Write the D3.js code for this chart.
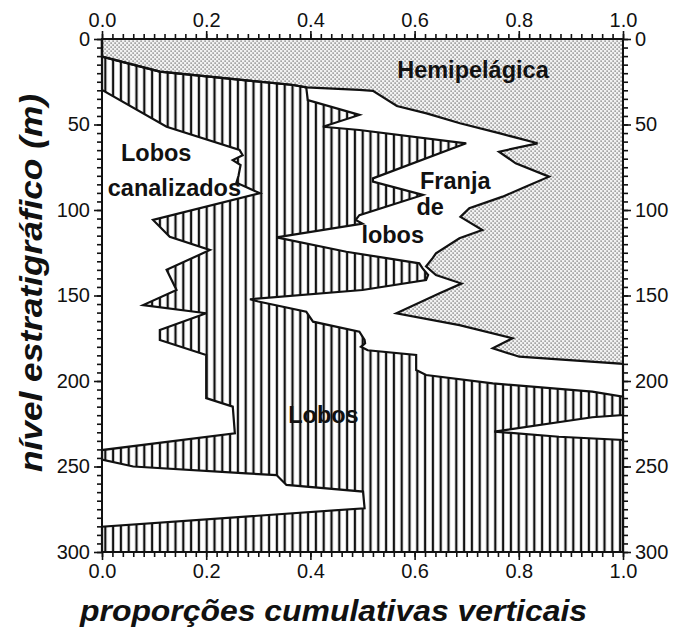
<!DOCTYPE html>
<html>
<head>
<meta charset="utf-8">
<script src="https://cdn.jsdelivr.net/npm/d3@7"></script>
<style>
  html, body { margin: 0; padding: 0; background: #fff; }
  svg { display: block; }
  .tick text { font-family: "Liberation Sans", Arial, Helvetica, sans-serif; font-size: 20px; fill: #111; }
  .tick line { stroke: #111; stroke-width: 1.6; }
</style>
</head>
<body>
<svg id="chart" width="677" height="627"></svg>
<script>
// Cumulative proportion at each stratigraphic level (m): upper limit of each facies.
// Lobos canalizados: 0 .. canalizadosDepth/canalizadosP
const canalizadosDepth = [0, 29.8, 51.3, 64.9, 68, 70.8, 73.7, 80, 84, 90.2, 105.8, 115.6, 123.4, 135, 146.8, 155.6, 160.4, 170.2, 176, 184.8, 210, 215, 230.6, 240.4, 246, 250, 254, 255, 260.8, 264.7, 274.4, 285.2, 300];
const canalizadosP     = [0, 0, 0.124, 0.264, 0.27, 0.251, 0.266, 0.262, 0.258, 0.303, 0.098, 0.13, 0.207, 0.124, 0.143, 0.079, 0.2, 0.111, 0.111, 0.2, 0.2, 0.251, 0.255, 0, 0, 0.06, 0.277, 0.335, 0.354, 0.501, 0.504, 0, 0];

// Lobos: canalizados .. lobosP
const lobosDepth = [0, 10.3, 19.1, 23, 26.9, 28.3, 35.7, 44.4, 51.3, 53.2, 61, 81.5, 83.4, 91.2, 103, 105.8, 108, 116, 124.4, 131.2, 134, 138, 141, 146.8, 152.2, 153.5, 159.5, 165.3, 171.2, 176, 178, 180, 182, 184.8, 193.6, 196.5, 201.4, 206.2, 209.2, 219.9, 221.2, 229.6, 232.6, 234.5, 300];
const lobosP     = [0, 0, 0.111, 0.239, 0.367, 0.392, 0.395, 0.494, 0.424, 0.494, 0.699, 0.52, 0.52, 0.616, 0.494, 0.487, 0.50, 0.335, 0.469, 0.609, 0.615, 0.626, 0.622, 0.50, 0.284, 0.30, 0.392, 0.405, 0.494, 0.504, 0.505, 0.497, 0.51, 0.603, 0.603, 0.622, 0.75, 0.941, 1, 1, 0.941, 0.753, 0.877, 1, 1];

// Franja de lobos: lobos .. franjaP ; Hemipelágica: franjaP .. 1
const franjaDepth = [0, 10.3, 19.1, 23, 26.9, 28.3, 29.8, 30.3, 39.2, 43.5, 49.3, 55.2, 61, 65.9, 72.7, 80.5, 86.4, 92.2, 99, 104, 111.7, 116.5, 125.3, 128, 133, 138, 143, 148.7, 160.4, 167.3, 175, 180.9, 185.8, 190, 300];
const franjaP     = [0, 0, 0.111, 0.239, 0.367, 0.392, 0.494, 0.52, 0.566, 0.623, 0.687, 0.764, 0.836, 0.762, 0.794, 0.858, 0.813, 0.769, 0.705, 0.688, 0.73, 0.686, 0.641, 0.635, 0.622, 0.641, 0.69, 0.648, 0.565, 0.686, 0.788, 0.75, 0.801, 1, 1];

const xTicksMajor = [0, 0.2, 0.4, 0.6, 0.8, 1.0];
const yTicksMajor = [0, 50, 100, 150, 200, 250, 300];

const faciesLabels = ["Hemipelágica", "Lobos", "canalizados", "Franja", "de", "lobos", "Lobos"];
const faciesLabelAt = [[0.712, 22.8], [0.104, 71.3], [0.139, 91.8], [0.678, 87.7], [0.63, 102.9], [0.558, 119.3], [0.425, 224.6]];

const xTitle = "proporções cumulativas verticais";
const yTitle = "nível estratigráfico (m)";

const svg = d3.select("#chart");
const x = d3.scaleLinear().domain([0, 1]).range([102, 623]);
const y = d3.scaleLinear().domain([0, 300]).range([39, 552]);

const pts = (ds, ps) => ds.map((d, i) => [ps[i], d]);
const canal = pts(canalizadosDepth, canalizadosP);
const lobos = pts(lobosDepth, lobosP);
const franja = pts(franjaDepth, franjaP);

// fill patterns
const defs = svg.append("defs");
const hatch = defs.append("pattern").attr("id", "hatch").attr("patternUnits", "userSpaceOnUse")
  .attr("width", 7.8).attr("height", 8);
hatch.append("rect").attr("width", 7.8).attr("height", 8).attr("fill", "#fff");
hatch.append("line").attr("x1", 3.9).attr("x2", 3.9).attr("y1", 0).attr("y2", 8)
  .attr("stroke", "#111").attr("stroke-width", 2.3);

const dots = defs.append("pattern").attr("id", "dots").attr("patternUnits", "userSpaceOnUse")
  .attr("width", 4).attr("height", 4);
dots.append("rect").attr("width", 4).attr("height", 4).attr("fill", "#f2f2f2");
dots.append("rect").attr("x", 0.5).attr("y", 0.5).attr("width", 1.2).attr("height", 1.2).attr("fill", "#555");
dots.append("rect").attr("x", 2.5).attr("y", 2.5).attr("width", 1.2).attr("height", 1.2).attr("fill", "#555");

const line = d3.line().x(d => x(d[0])).y(d => y(d[1])).curve(d3.curveLinear);

// Lobos area: between canalizados and lobos limits
const lobosArea = lobos.concat(canal.slice().reverse());
svg.append("path").attr("d", line(lobosArea) + "Z").attr("fill", "url(#hatch)").attr("stroke", "none");

// Hemipelágica area: right of franja limit
const hemiArea = franja.concat([[1, 300], [1, 0]]);
svg.append("path").attr("d", line(hemiArea) + "Z").attr("fill", "url(#dots)").attr("stroke", "none");

// limit lines
[canal, lobos, franja].forEach(p => {
  svg.append("path").attr("d", line(p)).attr("fill", "none")
    .attr("stroke", "#111").attr("stroke-width", 2.2).attr("stroke-linejoin", "miter");
});

// axes
const fmt = d3.format(".1f");
const xMinor = d3.range(0, 51).map(i => i / 50);
const yMinor = d3.range(0, 61).map(i => i * 5);

function axisPair(gen, scale, major, minor, transform, format) {
  svg.append("g").attr("transform", transform)
    .call(gen(scale).tickValues(minor).tickSize(5).tickSizeOuter(0).tickFormat(""))
    .call(g => g.select(".domain").remove());
  svg.append("g").attr("transform", transform)
    .call(gen(scale).tickValues(major).tickSize(8).tickPadding(4).tickSizeOuter(0).tickFormat(format))
    .call(g => g.select(".domain").remove());
}
axisPair(d3.axisTop, x, xTicksMajor, xMinor, "translate(0,39)", fmt);
axisPair(d3.axisBottom, x, xTicksMajor, xMinor, "translate(0,552)", fmt);
axisPair(d3.axisLeft, y, yTicksMajor, yMinor, "translate(102,0)", d3.format("d"));
axisPair(d3.axisRight, y, yTicksMajor, yMinor, "translate(623,0)", d3.format("d"));
svg.selectAll(".tick text").attr("fill", "#111");

svg.append("rect").attr("x", x(0)).attr("y", y(0)).attr("width", x(1) - x(0)).attr("height", y(300) - y(0))
  .attr("fill", "none").attr("stroke", "#111").attr("stroke-width", 2);

// facies names
svg.append("g").selectAll("text").data(faciesLabels).join("text")
  .attr("x", (d, i) => x(faciesLabelAt[i][0]))
  .attr("y", (d, i) => y(faciesLabelAt[i][1]))
  .attr("text-anchor", "middle")
  .attr("font-family", "'Liberation Sans', Arial, Helvetica, sans-serif")
  .attr("font-weight", "bold")
  .attr("font-size", 23.5)
  .attr("fill", "#111")
  .text(d => d);

// axis titles
svg.append("text").attr("x", 333.5).attr("y", 621)
  .attr("text-anchor", "middle")
  .attr("font-family", "'Liberation Sans', Arial, Helvetica, sans-serif")
  .attr("font-weight", "bold").attr("font-style", "italic").attr("font-size", 30)
  .attr("textLength", 507).attr("lengthAdjust", "spacingAndGlyphs")
  .attr("fill", "#111").text(xTitle);

svg.append("text").attr("transform", "translate(42,283) rotate(-90)")
  .attr("text-anchor", "middle")
  .attr("font-family", "'Liberation Sans', Arial, Helvetica, sans-serif")
  .attr("font-weight", "bold").attr("font-style", "italic").attr("font-size", 31)
  .attr("textLength", 378).attr("lengthAdjust", "spacingAndGlyphs")
  .attr("fill", "#111").text(yTitle);
</script>
</body>
</html>
